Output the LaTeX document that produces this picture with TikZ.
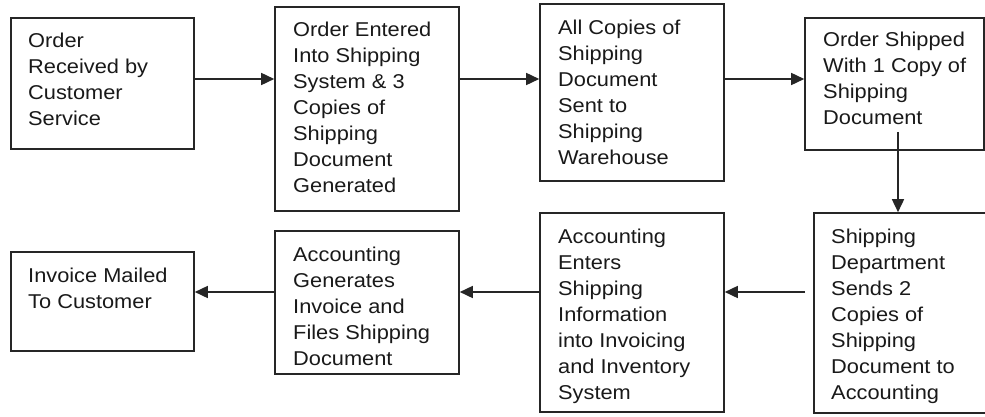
\documentclass[tikz,border=0pt]{standalone}
\usepackage{fontspec}
\setmainfont{Liberation Sans}[FakeStretch=1.09]
\usetikzlibrary{arrows.meta}
\tikzset{
  box/.style={draw=black!85, line width=1.6pt, rectangle, inner sep=0pt, minimum width=#1},
  txt/.style={anchor=base west, inner sep=0pt, text=black!90},
  arr/.style={draw=black!85, line width=1.6pt, -{Triangle[length=13pt,width=12pt]}}
}
\newcommand{\bxtext}[1]{\parbox[t]{200pt}{\raggedright\fontsize{20}{26}\selectfont #1}}
\begin{document}
\begin{tikzpicture}[x=1pt,y=-1pt]
\useasboundingbox (0,0) rectangle (985,417);
% boxes
\node[box=183pt, minimum height=131pt] (b1) at (102.5,83.5) {};
\node[box=184pt, minimum height=204pt] (b2) at (367,109) {};
\node[box=184pt, minimum height=177pt] (b3) at (632,92.5) {};
\node[box=179pt, minimum height=132pt] (b4) at (894.5,84) {};
\node[box=184pt, minimum height=200pt] (b5) at (906,313) {};
\node[box=184pt, minimum height=199pt] (b6) at (632,312.5) {};
\node[box=184pt, minimum height=143pt] (b7) at (367,302.5) {};
\node[box=183pt, minimum height=99pt] (b8) at (102.5,301.5) {};
% texts
\node[txt] (t1) at (28,48) {\bxtext{Order\\Received by\\Customer\\Service}};
\node[txt] (t2) at (293,37) {\bxtext{Order Entered\\Into Shipping\\System \& 3\\Copies of\\Shipping\\Document\\Generated}};
\node[txt] (t3) at (558,35) {\bxtext{All Copies of\\Shipping\\Document\\Sent to\\Shipping\\Warehouse}};
\node[txt] (t4) at (823,47) {\bxtext{Order Shipped\\With 1 Copy of\\Shipping\\Document}};
\node[txt] (t5) at (831,243) {\bxtext{Shipping\\Department\\Sends 2\\Copies of\\Shipping\\Document to\\Accounting}};
\node[txt] (t6) at (558,243) {\bxtext{Accounting\\Enters\\Shipping\\Information\\into Invoicing\\and Inventory\\System}};
\node[txt] (t7) at (293,261) {\bxtext{Accounting\\Generates\\Invoice and\\Files Shipping\\Document}};
\node[txt] (t8) at (28,282) {\bxtext{Invoice Mailed\\To Customer}};
% reference lines
\coordinate (r1) at (0,79);
\coordinate (r2) at (0,292);
\coordinate (c4) at (898,132);
\coordinate (c5) at (805,292);
% connectors
\draw[arr] (b1.east |- r1) -- (b2.west |- r1);
\draw[arr] (b2.east |- r1) -- (b3.west |- r1);
\draw[arr] (b3.east |- r1) -- (b4.west |- r1);
\draw[arr] (c4) -- (c4 |- b5.north);
\draw[arr] (c5) -- (b6.east |- c5);
\draw[arr] (b6.west |- r2) -- (b7.east |- r2);
\draw[arr] (b7.west |- r2) -- (b8.east |- r2);
\end{tikzpicture}
\end{document}
